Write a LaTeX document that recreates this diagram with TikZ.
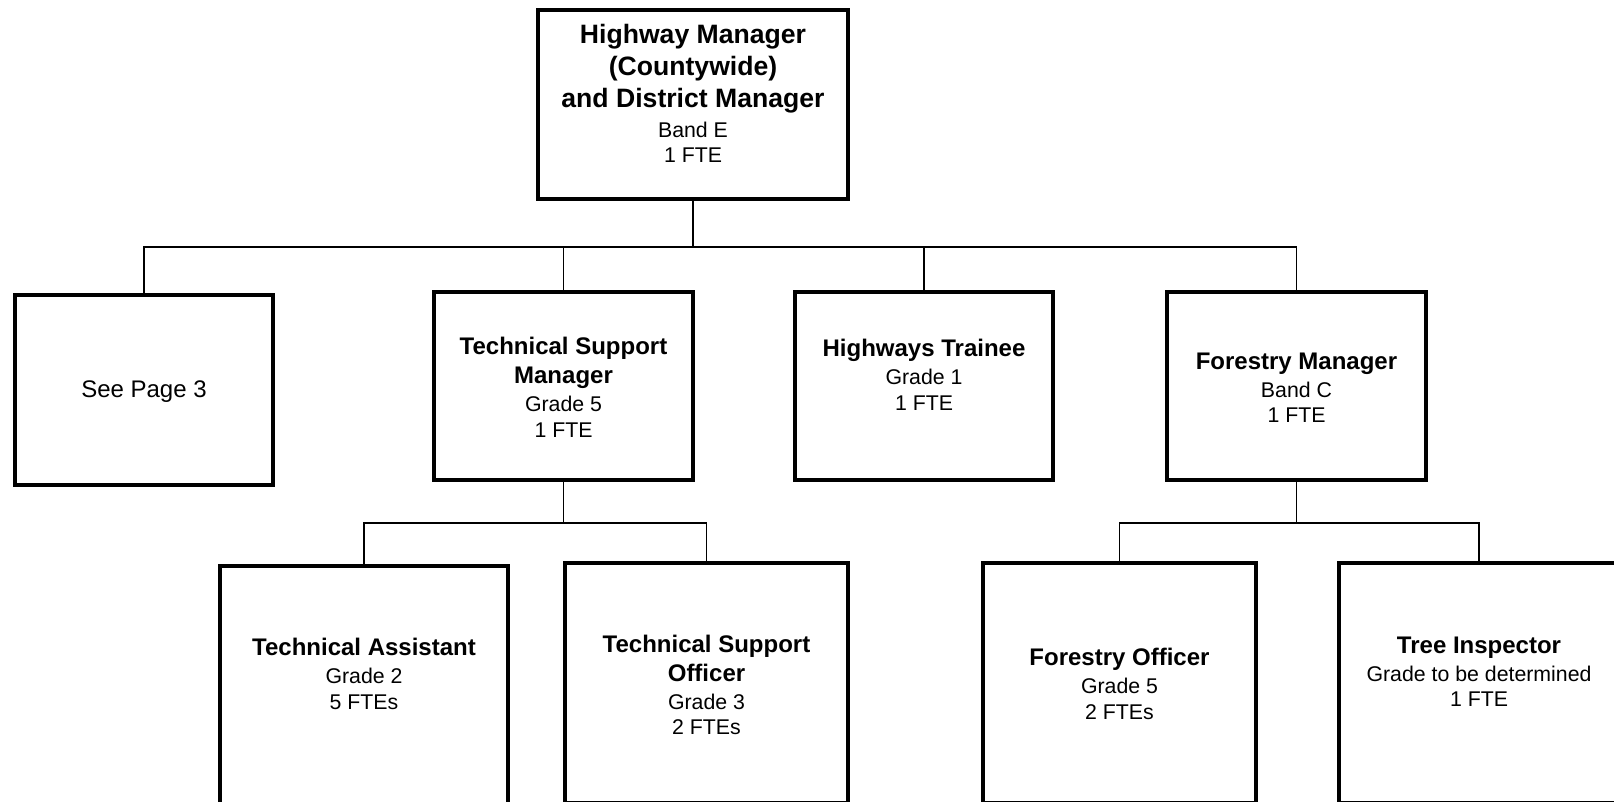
\documentclass[tikz,border=0pt]{standalone}
\usepackage{fontspec}
\setmainfont{Liberation Sans}
\usepackage{tikz}
\usetikzlibrary{calc}

\newcommand{\htitle}[1]{{\fontsize{26.6}{32}\selectfont\bfseries #1}}
\newcommand{\ptitle}[1]{{\fontsize{24}{29}\selectfont\bfseries #1}}

\begin{document}
\begin{tikzpicture}[x=1pt, y=-1pt,
    post/.style={draw, line width=4pt, minimum width=258pt, minimum height=188pt},
    subpost/.style={post, minimum height=240pt},
    txt/.style={align=center, font=\fontsize{21.3}{25.5}\selectfont},
    link/.style={line width=1.7pt}]

    \useasboundingbox (0,0) rectangle (1614,802);
    \clip (0,0) rectangle (1614,802);

    %coordinates
    \coordinate (B0) at (693,247); % main bus
    \coordinate (B1) at (563.5,523); % technical support bus
    \coordinate (B2) at (1296.5,523); % forestry bus

    %top
    \node[post, minimum width=310pt, minimum height=189pt] (hwm) at (693,104.5) {};
    \node[txt] (hwmtxt) at ([yshift=11pt]hwm.center)
    {\htitle{Highway Manager}\\[6.5pt] \htitle{(Countywide)}\\[6.5pt] \htitle{and District Manager}\\[4.5pt] Band E\\ 1 FTE};

    %second row
    \node[post, minimum height=190pt] (page) at (144,390) {};
    \node[txt, font=\fontsize{24}{29}\selectfont] (pagetxt) at ([yshift=-2pt]page.center) {See Page 3};
    \node[post, minimum width=259pt] (tsm) at (563.5,386) {};
    \node[txt] (tsmtxt) at ([yshift=-1.5pt]tsm.center)
    {\ptitle{Technical Support}\\[3.5pt] \ptitle{Manager}\\[2.5pt] Grade 5\\ 1 FTE};
    \node[post] (trainee) at (924,386) {};
    \node[txt] (traineetxt) at ([yshift=11pt]trainee.center)
    {\ptitle{Highways Trainee}\\[2.5pt] Grade 1\\ 1 FTE};
    \node[post, minimum width=259pt] (fm) at (1296.5,386) {};
    \node[txt] (fmtxt) at ([yshift=-1.5pt]fm.center)
    {\ptitle{Forestry Manager}\\[2.5pt] Band C\\ 1 FTE};

    %third row
    \node[subpost, minimum width=288pt] (ta) at (364,686) {};
    \node[txt] (tatxt) at ([yshift=12pt]ta.center)
    {\ptitle{Technical Assistant}\\[2.5pt] Grade 2\\ 5 FTEs};
    \node[subpost, minimum width=283pt] (tso) at (706.5,683) {};
    \node[txt] (tsotxt) at ([yshift=-2pt]tso.center)
    {\ptitle{Technical Support}\\[3.5pt] \ptitle{Officer}\\[2.5pt] Grade 3\\ 2 FTEs};
    \node[subpost, minimum width=273pt] (fo) at (1119.5,683) {};
    \node[txt] (fotxt) at ([yshift=-1pt]fo.center)
    {\ptitle{Forestry Officer}\\[2.5pt] Grade 5\\ 2 FTEs};
    \node[subpost, minimum width=280pt] (ti) at (1479,683) {};
    \node[txt] (titxt) at ([yshift=11.5pt]ti.center)
    {\ptitle{Tree Inspector}\\[2.5pt] Grade to be determined\\ 1 FTE};

    %links
    \draw[link] (hwm.south) -- (B0);
    \foreach \n in {page,tsm,trainee,fm}
    \draw[link] (B0) -| (\n.north);
    \draw[link] (tsm.south) -- (B1);
    \foreach \n in {ta,tso}
    \draw[link] (B1) -| (\n.north);
    \draw[link] (fm.south) -- (B2);
    \foreach \n in {fo,ti}
    \draw[link] (B2) -| (\n.north);

\end{tikzpicture}
\end{document}
